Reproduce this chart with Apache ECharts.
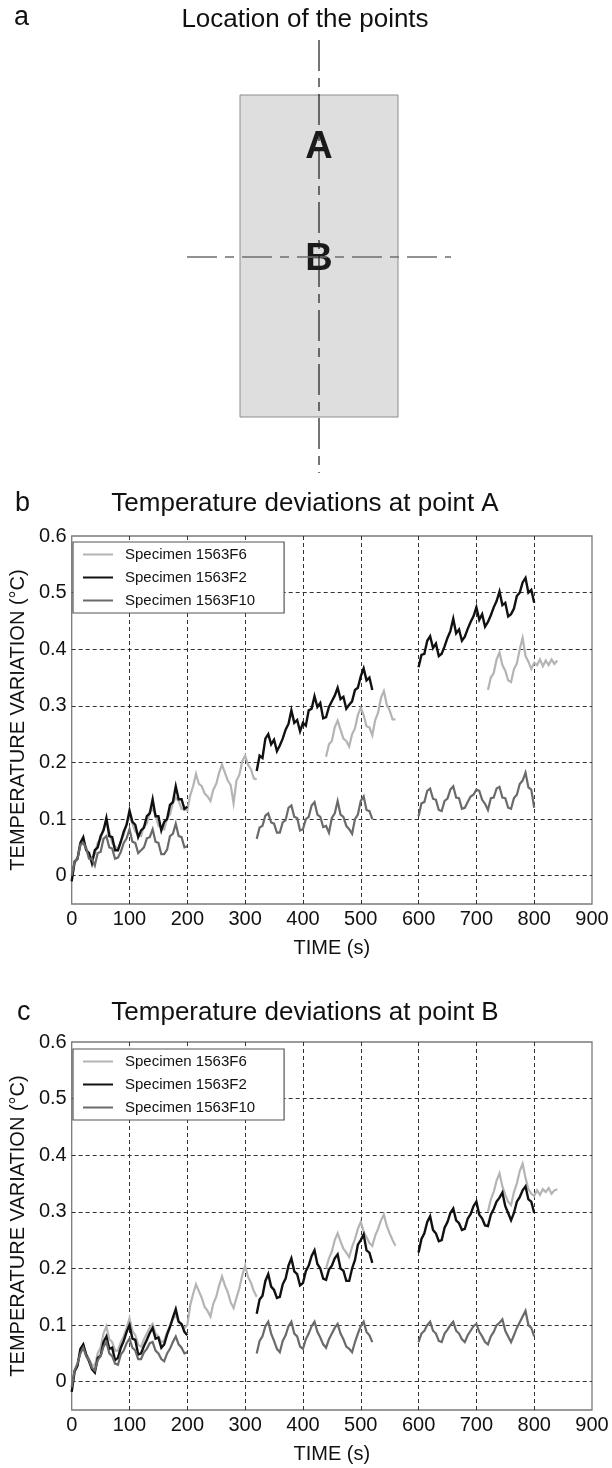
<!DOCTYPE html>
<html><head><meta charset="utf-8">
<script src="https://cdn.jsdelivr.net/npm/echarts@6/dist/echarts.min.js"></script>
<style>html,body{margin:0;padding:0;background:#fff}#main{width:612px;height:1468px}</style>
</head><body><div id="main"></div>
<script>
// ---------- data ----------
const STEP = 5; // sampling step (s) of the hand-read values
const seriesNames = ['Specimen 1563F6', 'Specimen 1563F2', 'Specimen 1563F10'];
const seriesColors = ['#b4b4b4', '#111111', '#6a6a6a'];
const xTicks = [0, 100, 200, 300, 400, 500, 600, 700, 800, 900];
const yTicks = [0, 0.1, 0.2, 0.3, 0.4, 0.5, 0.6];

// Panel b : point A
const bF6Starts = [0, 440, 720];
const bF6Seg1 = [-0.005,0.022,0.03,0.052,0.06,0.05,0.032,0.032,0.038,0.058,0.064,0.082,0.094,0.078,0.058,0.052,0.046,0.062,0.072,0.092,0.104,0.092,0.078,0.072,0.07,0.088,0.092,0.112,0.118,0.108,0.088,0.085,0.082,0.102,0.108,0.128,0.138,0.132,0.118,0.118,0.115,
  0.142,0.158,0.18,0.162,0.158,0.145,0.14,0.132,0.152,0.162,0.182,0.196,0.182,0.168,0.16,0.128,0.168,0.178,0.202,0.212,0.196,0.188,0.172,0.17];
const bF6Seg2 = [0.21,0.232,0.238,0.262,0.274,0.258,0.242,0.238,0.228,0.25,0.26,0.284,0.296,0.284,0.264,0.262,0.248,0.275,0.288,0.314,0.326,0.302,0.292,0.276,0.276];
const bF6Seg3 = [0.328,0.35,0.358,0.382,0.394,0.372,0.362,0.345,0.342,0.365,0.375,0.4,0.42,0.388,0.378,0.365,0.376,0.372,0.382,0.37,0.38,0.372,0.382,0.374,0.38];

const bF2Starts = [0, 320, 600];
const bF2Seg1 = [-0.01,0.025,0.03,0.058,0.068,0.045,0.04,0.022,0.045,0.05,0.07,0.08,0.102,0.07,0.068,0.045,0.045,0.06,0.078,0.09,0.115,0.095,0.09,0.068,0.08,0.085,0.105,0.11,0.135,0.105,0.105,0.08,0.095,0.1,0.125,0.13,0.158,0.135,0.135,0.118,0.122];
const bF2Seg2 = [0.185,0.212,0.208,0.242,0.25,0.232,0.24,0.22,0.23,0.242,0.258,0.268,0.292,0.27,0.275,0.255,0.27,0.265,0.292,0.295,0.317,0.298,0.305,0.278,0.28,0.298,0.308,0.318,0.332,0.312,0.316,0.295,0.302,0.308,0.328,0.332,0.352,0.366,0.345,0.35,0.328];
const bF2Seg3 = [0.368,0.39,0.392,0.415,0.423,0.402,0.41,0.388,0.392,0.405,0.42,0.432,0.454,0.428,0.435,0.415,0.422,0.436,0.448,0.458,0.474,0.452,0.462,0.44,0.448,0.46,0.474,0.485,0.502,0.478,0.482,0.458,0.462,0.472,0.494,0.5,0.518,0.526,0.5,0.505,0.482];

const bF10Starts = [0, 320, 600];
const bF10Seg1 = [0.0,0.025,0.03,0.055,0.058,0.048,0.03,0.03,0.018,0.04,0.042,0.065,0.07,0.05,0.048,0.03,0.032,0.042,0.058,0.066,0.082,0.06,0.058,0.04,0.045,0.05,0.066,0.068,0.082,0.06,0.058,0.038,0.038,0.046,0.07,0.074,0.092,0.07,0.068,0.05,0.052];
const bF10Seg2 = [0.065,0.085,0.088,0.106,0.11,0.094,0.092,0.076,0.076,0.094,0.098,0.12,0.124,0.104,0.102,0.08,0.082,0.1,0.104,0.124,0.13,0.108,0.104,0.086,0.088,0.076,0.102,0.11,0.132,0.108,0.104,0.088,0.082,0.074,0.1,0.108,0.132,0.14,0.116,0.114,0.1];
const bF10Seg3 = [0.105,0.128,0.13,0.15,0.154,0.136,0.134,0.116,0.114,0.132,0.136,0.152,0.158,0.138,0.137,0.118,0.12,0.13,0.14,0.143,0.152,0.15,0.134,0.127,0.116,0.137,0.138,0.154,0.157,0.138,0.137,0.12,0.118,0.137,0.143,0.162,0.168,0.182,0.156,0.152,0.12];

// Panel c : point B
const cF6Starts = [0, 440, 720];
const cF6Seg1 = [-0.01,0.02,0.03,0.055,0.065,0.05,0.04,0.03,0.028,0.05,0.06,0.085,0.098,0.075,0.07,0.055,0.055,0.07,0.08,0.095,0.112,0.09,0.082,0.065,0.062,0.075,0.085,0.095,0.102,0.085,0.08,0.07,0.072,0.088,0.098,0.11,0.118,0.105,0.1,0.095,0.1,
  0.135,0.155,0.172,0.16,0.148,0.132,0.125,0.115,0.138,0.15,0.17,0.186,0.17,0.158,0.14,0.13,0.148,0.165,0.188,0.205,0.185,0.175,0.16,0.15];
const cF6Seg2 = [0.2,0.218,0.23,0.25,0.262,0.248,0.235,0.228,0.22,0.238,0.252,0.27,0.282,0.265,0.255,0.245,0.24,0.258,0.27,0.285,0.295,0.275,0.262,0.25,0.24];
const cF6Seg3 = [0.3,0.322,0.335,0.355,0.368,0.345,0.33,0.318,0.312,0.335,0.35,0.372,0.385,0.36,0.34,0.332,0.328,0.338,0.33,0.34,0.335,0.342,0.332,0.338,0.34];

const cF2Starts = [0, 320, 600];
const cF2Seg1 = [-0.018,0.018,0.028,0.058,0.066,0.047,0.036,0.022,0.016,0.042,0.046,0.07,0.08,0.058,0.06,0.038,0.042,0.06,0.072,0.088,0.1,0.076,0.074,0.048,0.05,0.063,0.074,0.086,0.095,0.076,0.078,0.06,0.066,0.083,0.097,0.113,0.128,0.106,0.102,0.088,0.082];
const cF2Seg2 = [0.12,0.145,0.152,0.178,0.19,0.168,0.162,0.148,0.15,0.172,0.182,0.205,0.218,0.195,0.19,0.17,0.174,0.195,0.205,0.222,0.232,0.208,0.2,0.182,0.18,0.198,0.205,0.218,0.225,0.2,0.196,0.178,0.178,0.2,0.215,0.242,0.25,0.26,0.232,0.228,0.21];
const cF2Seg3 = [0.228,0.252,0.262,0.282,0.292,0.268,0.262,0.248,0.25,0.272,0.282,0.298,0.306,0.285,0.28,0.268,0.27,0.288,0.296,0.31,0.318,0.295,0.288,0.276,0.275,0.295,0.305,0.318,0.325,0.334,0.31,0.298,0.285,0.298,0.318,0.326,0.338,0.345,0.322,0.318,0.298];

const cF10Starts = [0, 320, 600];
const cF10Seg1 = [-0.01,0.02,0.032,0.05,0.06,0.045,0.038,0.025,0.02,0.038,0.045,0.062,0.07,0.05,0.045,0.032,0.03,0.048,0.055,0.068,0.076,0.06,0.055,0.04,0.04,0.052,0.058,0.068,0.07,0.055,0.05,0.04,0.036,0.05,0.058,0.07,0.08,0.066,0.06,0.05,0.052];
const cF10Seg2 = [0.05,0.072,0.08,0.098,0.106,0.085,0.072,0.058,0.052,0.072,0.082,0.098,0.106,0.085,0.08,0.062,0.058,0.075,0.085,0.098,0.106,0.088,0.078,0.066,0.06,0.075,0.085,0.095,0.102,0.085,0.075,0.062,0.058,0.052,0.07,0.085,0.098,0.106,0.088,0.082,0.07];
const cF10Seg3 = [0.07,0.085,0.09,0.1,0.106,0.09,0.085,0.072,0.07,0.085,0.092,0.1,0.106,0.09,0.085,0.075,0.07,0.082,0.09,0.098,0.102,0.088,0.08,0.07,0.066,0.08,0.088,0.1,0.104,0.11,0.09,0.08,0.07,0.082,0.095,0.105,0.115,0.125,0.1,0.095,0.08];

// ---------- build ----------
function build(starts, segs) {
  const out = [];
  starts.forEach((t0, k) => {
    const seg = segs[k];
    seg.forEach((v, i) => out.push([t0 + i * STEP, v]));
    out.push([t0 + (seg.length - 1) * STEP + 1, '-']);
  });
  return out;
}
const panelData = [
  [build(bF6Starts, [bF6Seg1, bF6Seg2, bF6Seg3]), build(bF2Starts, [bF2Seg1, bF2Seg2, bF2Seg3]), build(bF10Starts, [bF10Seg1, bF10Seg2, bF10Seg3])],
  [build(cF6Starts, [cF6Seg1, cF6Seg2, cF6Seg3]), build(cF2Starts, [cF2Seg1, cF2Seg2, cF2Seg3]), build(cF10Starts, [cF10Seg1, cF10Seg2, cF10Seg3])]
];

const FONT = '"Liberation Sans", Arial, Helvetica, sans-serif';
const gridTops = [536, 1042];
const lineWidths = [2.2, 2.4, 2.2];

const grids = gridTops.map(t => ({
  left: 67, top: t, width: 525, height: 368,
  show: true, borderColor: '#7a7a7a', borderWidth: 1.3, backgroundColor: 'rgba(0,0,0,0)'
}));

const xAxes = gridTops.map((t, gi) => ({
  type: 'value', gridIndex: gi, min: xTicks[0], max: xTicks[xTicks.length - 1], interval: 100,
  axisLine: { show: false }, axisTick: { show: false },
  axisLabel: { fontSize: 20, color: '#111', margin: 5, fontFamily: FONT },
  splitLine: { show: true, showMinLine: false, showMaxLine: false, lineStyle: { color: '#333', width: 1, type: [4, 3] } },
  name: 'TIME (s)', nameLocation: 'middle', nameGap: 34,
  nameTextStyle: { fontSize: 20, color: '#111', fontFamily: FONT }
}));

const yAxes = gridTops.map((t, gi) => ({
  type: 'value', gridIndex: gi, min: -0.05, max: yTicks[yTicks.length - 1], splitNumber: 7,
  axisLine: { show: false }, axisTick: { show: false },
  axisLabel: { fontSize: 20, color: '#111', margin: 5, fontFamily: FONT, showMinLabel: false,
    formatter: v => (v < -0.001 ? '' : String(Math.round(v * 10) / 10)) },
  splitLine: { show: true, showMinLine: false, showMaxLine: false, lineStyle: { color: '#333', width: 1, type: [4, 3] } },
  name: 'TEMPERATURE VARIATION (°C)', nameLocation: 'middle', nameGap: 40, nameRotate: 90,
  nameTextStyle: { fontSize: 20, color: '#111', fontFamily: FONT }
}));

const series = [];
panelData.forEach((sets, gi) => {
  sets.forEach((d, si) => {
    series.push({
      type: 'line', name: seriesNames[si], xAxisIndex: gi, yAxisIndex: gi,
      data: d, symbol: 'none', connectNulls: false, silent: true,
      lineStyle: { color: seriesColors[si], width: lineWidths[si], join: 'miter' },
      itemStyle: { color: seriesColors[si] },
      z: 3 + si
    });
  });
});

const legendTops = [542, 1049];
const legends = legendTops.map(t => ({
  data: seriesNames, orient: 'vertical', left: 73, top: t,
  icon: 'rect', itemWidth: 30, itemHeight: 2,
  padding: [4, 29, 4, 10], itemGap: 6,
  borderColor: '#555', borderWidth: 1.2, backgroundColor: '#fff',
  textStyle: { fontSize: 15, color: '#111', fontFamily: FONT, lineHeight: 17, padding: [0, 0, 0, 7] },
  selectedMode: false
}));

const txt = (x, y, s, size, opts) => Object.assign({
  type: 'text', x: x, y: y, z: 10,
  style: { text: s, fontSize: size, fontFamily: FONT, fill: '#111', align: 'center', verticalAlign: 'middle' }
}, opts || {});

const graphics = [
  // panel letters and titles
  { type: 'text', x: 14, y: 18, style: { text: 'a', fontSize: 27, fontFamily: FONT, fill: '#111', align: 'left', verticalAlign: 'middle' } },
  txt(305, 20, 'Location of the points', 26),
  { type: 'text', x: 15, y: 504, style: { text: 'b', fontSize: 27, fontFamily: FONT, fill: '#111', align: 'left', verticalAlign: 'middle' } },
  txt(305, 504, 'Temperature deviations at point A', 26),
  { type: 'text', x: 17, y: 1013, style: { text: 'c', fontSize: 27, fontFamily: FONT, fill: '#111', align: 'left', verticalAlign: 'middle' } },
  txt(305, 1013, 'Temperature deviations at point B', 26),
  // panel a sketch
  { type: 'rect', z: 1, shape: { x: 240, y: 95, width: 158, height: 322 }, style: { fill: '#dedede', stroke: '#8c8c8c', lineWidth: 1 } },
  { type: 'text', x: 319, y: 148, z: 2, style: { text: 'A', fontSize: 38, fontWeight: 'bold', fontFamily: FONT, fill: '#1a1a1a', align: 'center', verticalAlign: 'middle' } },
  { type: 'text', x: 319, y: 260, z: 2, style: { text: 'B', fontSize: 38, fontWeight: 'bold', fontFamily: FONT, fill: '#1a1a1a', align: 'center', verticalAlign: 'middle' } },
  { type: 'line', z: 3, shape: { x1: 187, y1: 257, x2: 451, y2: 257 }, style: { stroke: '#6e6e6e', lineWidth: 1.5, lineDash: [30, 8, 9, 8] } },
  { type: 'line', z: 4, shape: { x1: 319, y1: 40, x2: 319, y2: 473 }, style: { stroke: '#1a1a1a', lineWidth: 1.2, lineDash: [31, 7, 9, 7] } }
];

const chart = echarts.init(document.getElementById('main'), null, { renderer: 'canvas' });
chart.setOption({
  backgroundColor: '#ffffff',
  animation: false,
  grid: grids,
  xAxis: xAxes,
  yAxis: yAxes,
  legend: legends,
  series: series,
  graphic: graphics
});
</script>
</body></html>
